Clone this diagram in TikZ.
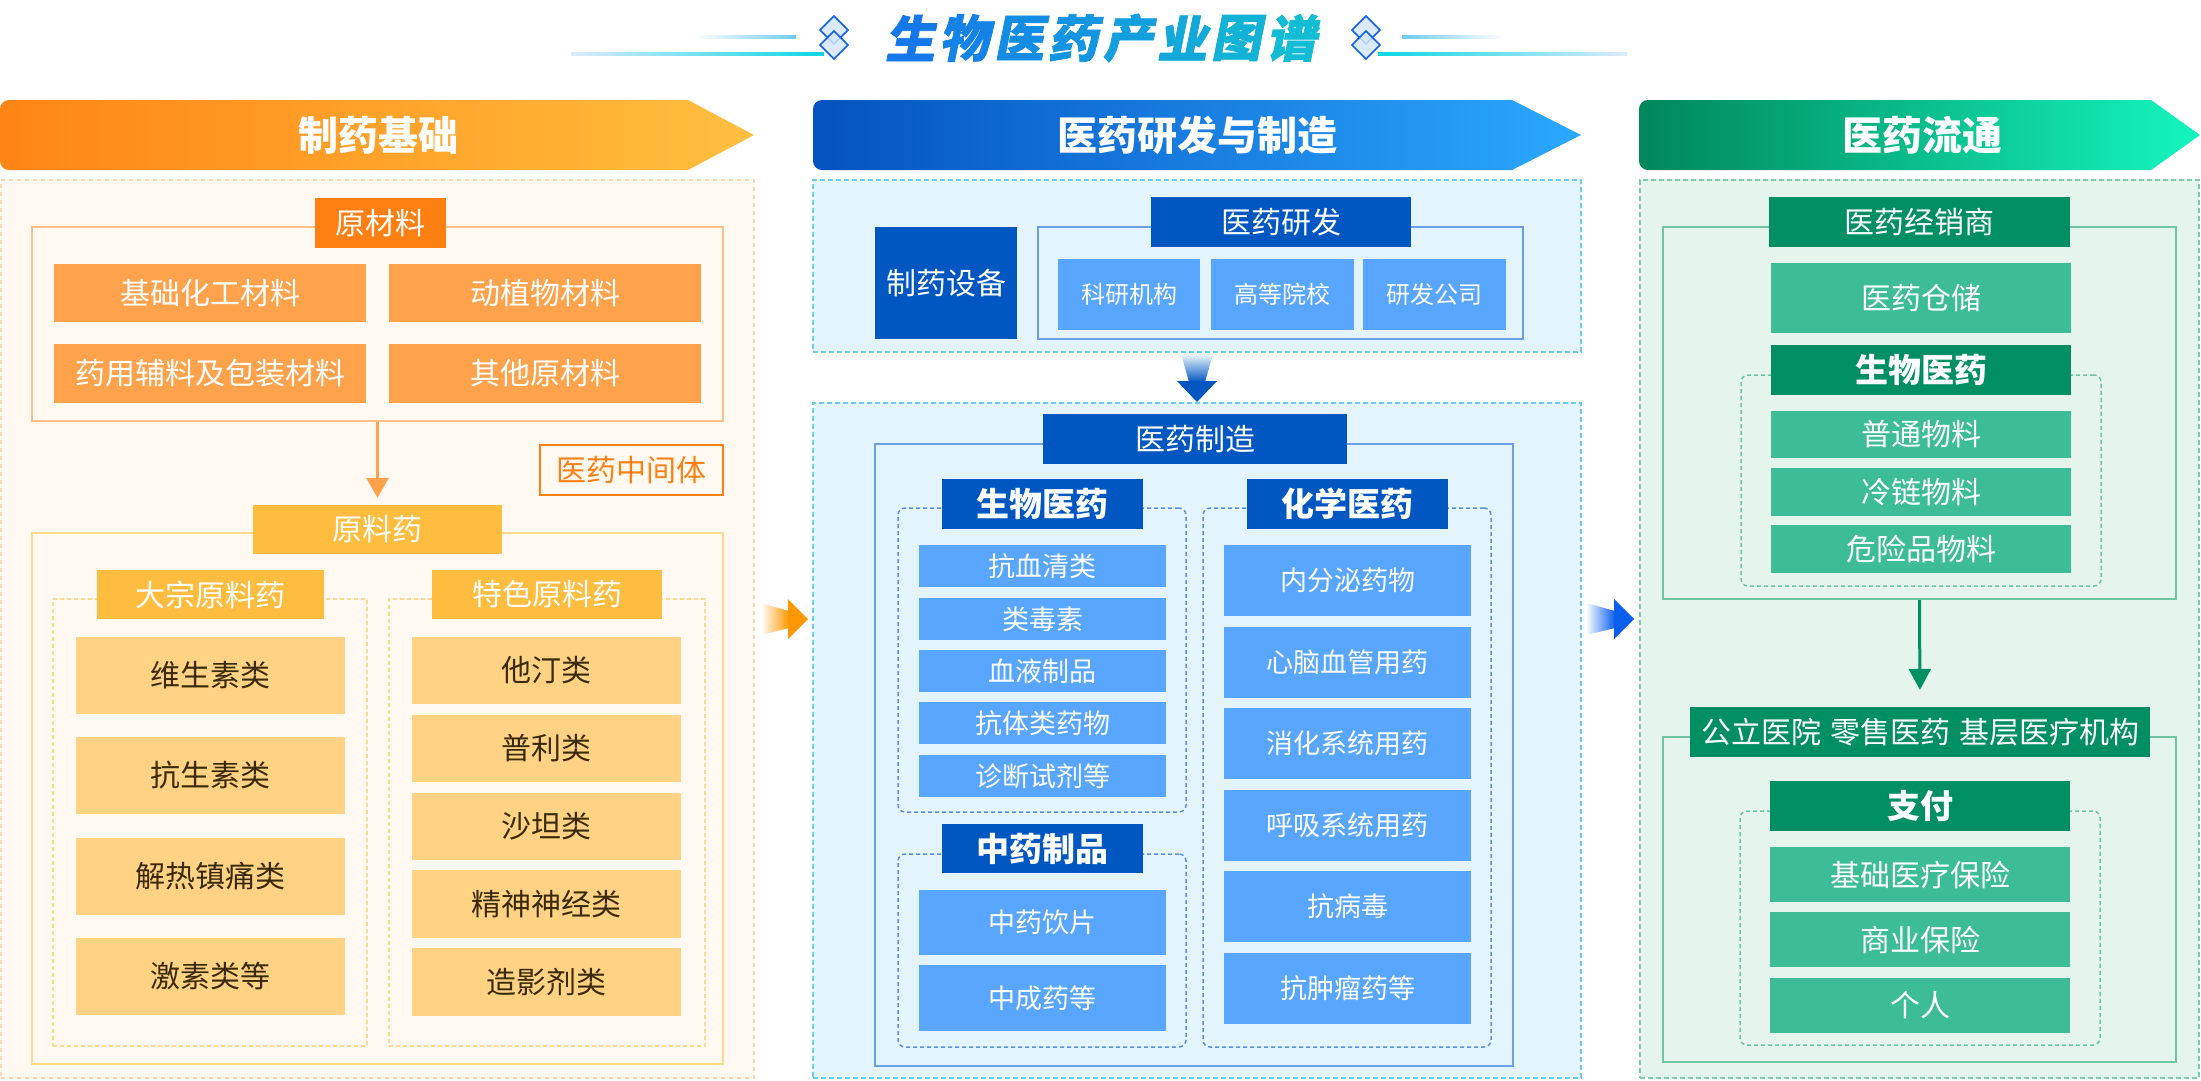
\documentclass[tikz,border=0pt]{standalone}
\usepackage{fontspec}
\newfontfamily\cjk{Noto Sans CJK SC}
\newfontfamily\titlefont{Noto Sans CJK SC}[FakeSlant=0.2,FakeBold=1.5]
\usetikzlibrary{arrows.meta}
\newcommand\fsz[1]{\fontsize{#1}{#1}\selectfont}
% colours
\definecolor{oHL}{HTML}{FF8514}\definecolor{oHR}{HTML}{FFBF40}
\definecolor{oPanel}{HTML}{FFF9F1}\definecolor{oPanelB}{HTML}{FDD5AE}
\definecolor{oDark}{HTML}{FF8012}\definecolor{oMid}{HTML}{FFA24C}
\definecolor{oFrame}{HTML}{FFBE85}\definecolor{yDark}{HTML}{FFBD40}
\definecolor{yItem}{HTML}{FFD383}\definecolor{yFrame}{HTML}{FFD98E}
\definecolor{yText}{HTML}{3B2A0A}
\definecolor{bHL}{HTML}{0552C0}\definecolor{bHR}{HTML}{2BA8FF}
\definecolor{bPanel}{HTML}{E3F4FC}\definecolor{bPanelB}{HTML}{6DCBF0}
\definecolor{bDark}{HTML}{0057C2}\definecolor{bItem}{HTML}{58A6FF}
\definecolor{bFrame}{HTML}{6B9FE6}\definecolor{bSub}{HTML}{5B8FD9}
\definecolor{gHL}{HTML}{00875A}\definecolor{gHR}{HTML}{14F5BE}
\definecolor{gPanel}{HTML}{E5F5EE}\definecolor{gPanelB}{HTML}{7DCDA8}
\definecolor{gDark}{HTML}{008F62}\definecolor{gItem}{HTML}{3DBD95}
\definecolor{gFrame}{HTML}{6FC4A2}
\definecolor{tA}{HTML}{1478EA}\definecolor{tB}{HTML}{12BCD4}
\definecolor{arrO}{HTML}{FF9800}\definecolor{arrB}{HTML}{0A5FEE}
\newcommand\bx[7]{\pgfmathsetmacro\bxW{(#5)-(#3)}\pgfmathsetmacro\bxH{(#6)-(#4)}%
  \node[#2,inner sep=0pt,minimum width=\bxW pt,minimum height=\bxH pt] (#1) at ({((#3)+(#5))/2},{((#4)+(#6))/2}) {#7};}
\tikzset{
  every node/.style={font=\cjk, align=center},
  hdrtext/.style={font=\cjk\bfseries\fsz{40}, text=white},
  otag/.style={fill=oDark, text=white, font=\cjk\fsz{30}},
  oitem/.style={fill=oMid, text=white, font=\cjk\fsz{30}},
  ytag/.style={fill=yDark, text=white, font=\cjk\fsz{30}},
  yitem/.style={fill=yItem, text=yText, font=\cjk\fsz{30}},
  oframe/.style={draw=oFrame, line width=2pt},
  yframe/.style={draw=yFrame, line width=2pt},
  ysub/.style={draw=yFrame, line width=1.5pt, dash pattern=on 4pt off 3pt},
  midbox/.style={draw=oDark, line width=1.5pt, text=oDark, font=\cjk\fsz{30}},
  btag/.style={fill=bDark, text=white, font=\cjk\fsz{30}},
  btagb/.style={fill=bDark, text=white, font=\cjk\bfseries\fsz{33}},
  bitem/.style={fill=bItem, text=white, font=\cjk\fsz{27}},
  bitems/.style={fill=bItem, text=white, font=\cjk\fsz{24}},
  bframe/.style={draw=bFrame, line width=2pt},
  bsub/.style={draw=bSub, line width=1.5pt, dash pattern=on 4pt off 3pt, rounded corners=7pt},
  gtag/.style={fill=gDark, text=white, font=\cjk\fsz{30}},
  gtagb/.style={fill=gDark, text=white, font=\cjk\bfseries\fsz{33}},
  gitem/.style={fill=gItem, text=white, font=\cjk\fsz{30}},
  gframe/.style={draw=gFrame, line width=2pt},
  gsub/.style={draw=gFrame, line width=1.5pt, dash pattern=on 4pt off 3pt, rounded corners=7pt},
  opanel/.style={fill=oPanel, draw=oPanelB, line width=1.5pt, dash pattern=on 4pt off 4pt},
  bpanel/.style={fill=bPanel, draw=bPanelB, line width=1.5pt, dash pattern=on 5pt off 3pt},
  gpanel/.style={fill=gPanel, draw=gPanelB, line width=1.5pt, dash pattern=on 5pt off 3pt},
  tch/.style={font=\titlefont\bfseries\fsz{50}, inner sep=0pt},
  dia/.style={draw=tA!80!blue, fill=tA!18!white, line width=1.5pt, fill opacity=0.85},
}
\begin{document}
\begin{tikzpicture}[x=1pt,y=-1pt]
\useasboundingbox (0,0) rectangle (2201,1080);
\fill[white] (0,0) rectangle (2201,1080);

% ---------- title ----------
\shade[left color=white, right color=bPanelB] (694,35) rectangle (796,38);
\shade[left color=tA!15!white, right color=tB!60!cyan] (571,52) rectangle (824,55);
\shade[right color=white, left color=bPanelB] (1402,35) rectangle (1504,38);
\shade[right color=tA!15!white, left color=tB!60!cyan] (1378,52) rectangle (1627,55);
\draw[dia] (834,16) -- (848,30) -- (834,44) -- (820,30) -- cycle;
\draw[dia] (834,31) -- (848,45) -- (834,59) -- (820,45) -- cycle;
\draw[dia] (1366,16) -- (1380,30) -- (1366,44) -- (1352,30) -- cycle;
\draw[dia] (1366,31) -- (1380,45) -- (1366,59) -- (1352,45) -- cycle;
\node[tch, text=tA] (t1) at (910,38) {生};
\node[tch, text=tA!86!tB] (t2) at (964,38) {物};
\node[tch, text=tA!71!tB] (t3) at (1019,38) {医};
\node[tch, text=tA!57!tB] (t4) at (1073,38) {药};
\node[tch, text=tA!43!tB] (t5) at (1128,38) {产};
\node[tch, text=tA!29!tB] (t6) at (1182,38) {业};
\node[tch, text=tA!14!tB] (t7) at (1236,38) {图};
\node[tch, text=tB] (t8) at (1291,38) {谱};

% ---------- headers ----------
\begin{scope}
  \clip[rounded corners=9pt] (0,100) rectangle (800,170);
  \clip (0,100) -- (688,100) -- (754,135) -- (688,170) -- (0,170) -- cycle;
  \shade[left color=oHL, right color=oHR] (0,100) rectangle (754,170);
\end{scope}
\node[hdrtext] (h1) at (378,135) {制药基础};
\begin{scope}
  \clip[rounded corners=9pt] (813,100) rectangle (1650,170);
  \clip (813,100) -- (1512,100) -- (1581,135) -- (1512,170) -- (813,170) -- cycle;
  \shade[left color=bHL, right color=bHR] (813,100) rectangle (1581,170);
\end{scope}
\node[hdrtext] (h2) at (1197,135) {医药研发与制造};
\begin{scope}
  \clip[rounded corners=9pt] (1639,100) rectangle (2300,170);
  \clip (1639,100) -- (2151,100) -- (2200,135) -- (2151,170) -- (1639,170) -- cycle;
  \shade[left color=gHL, right color=gHR] (1639,100) rectangle (2200,170);
\end{scope}
\node[hdrtext] (h3) at (1922,135) {医药流通};

% ---------- column 1 ----------
\bx{p1}{opanel}{1}{180}{754}{1078}{}
\bx{f1}{oframe}{32}{227}{723}{421}{}
\bx{rcl}{otag}{315}{198}{446}{248}{原材料}
\bx{o1}{oitem}{54}{264}{366}{322}{基础化工材料}
\bx{o2}{oitem}{389}{264}{701}{322}{动植物材料}
\bx{o3}{oitem}{54}{344}{366}{403}{药用辅料及包装材料}
\bx{o4}{oitem}{389}{344}{701}{403}{其他原材料}
\bx{mid}{midbox}{540}{445}{723}{495}{医药中间体}
\bx{f2}{yframe}{32}{533}{723}{1064}{}
\bx{yly}{ytag}{253}{505}{502}{554}{原料药}
\draw[draw=oMid, line width=3pt, -{Triangle[width=22pt,length=20pt]}, shorten >=7pt] (f1.south) -- (yly.north);
\bx{s1}{ysub}{53}{599}{367}{1046}{}
\bx{s2}{ysub}{389}{599}{705}{1046}{}
\bx{dz}{ytag}{97}{570}{324}{619}{大宗原料药}
\bx{ts}{ytag}{432}{570}{662}{619}{特色原料药}
\bx{l1}{yitem}{76}{637}{345}{714}{维生素类}
\bx{l2}{yitem}{76}{737}{345}{814}{抗生素类}
\bx{l3}{yitem}{76}{838}{345}{915}{解热镇痛类}
\bx{l4}{yitem}{76}{938}{345}{1015}{激素类等}
\bx{r1}{yitem}{412}{637}{681}{704}{他汀类}
\bx{r2}{yitem}{412}{715}{681}{782}{普利类}
\bx{r3}{yitem}{412}{793}{681}{860}{沙坦类}
\bx{r4}{yitem}{412}{870}{681}{938}{精神神经类}
\bx{r5}{yitem}{412}{948}{681}{1016}{造影剂类}

% ---------- column 2 ----------
\bx{pb1}{bpanel}{813}{180}{1581}{352}{}
\bx{pb2}{bpanel}{813}{403}{1581}{1078}{}
\bx{eq}{btag}{875}{227}{1017}{339}{制药设备}
\bx{fr}{bframe}{1038}{227}{1523}{339}{}
\bx{yf}{btag}{1151}{197}{1411}{247}{医药研发}
\bx{k1}{bitems}{1058}{259}{1200}{330}{科研机构}
\bx{k2}{bitems}{1211}{259}{1354}{330}{高等院校}
\bx{k3}{bitems}{1363}{259}{1506}{330}{研发公司}
\shade[top color=bPanel!60!white, bottom color=bDark] (1181,354) -- (1213,354) -- (1205,382) -- (1189,382) -- cycle;
\fill[bDark] (1177,381) -- (1217,381) -- (1197,402) -- cycle;
\bx{fm}{bframe}{875}{444}{1513}{1066}{}
\bx{zz}{btag}{1043}{414}{1347}{464}{医药制造}
\bx{sb}{bsub}{898}{508}{1186}{812}{}
\bx{sc}{bsub}{1203}{508}{1491}{1047}{}
\bx{sz}{bsub}{898}{854}{1186}{1047}{}
\bx{swy}{btagb}{942}{479}{1143}{529}{生物医药}
\bx{hxy}{btagb}{1247}{479}{1448}{529}{化学医药}
\bx{b1}{bitem}{919}{545}{1166}{587}{抗血清类}
\bx{b2}{bitem}{919}{598}{1166}{640}{类毒素}
\bx{b3}{bitem}{919}{650}{1166}{692}{血液制品}
\bx{b4}{bitem}{919}{702}{1166}{744}{抗体类药物}
\bx{b5}{bitem}{919}{755}{1166}{797}{诊断试剂等}
\bx{zyp}{btagb}{942}{824}{1143}{873}{中药制品}
\bx{z1}{bitem}{919}{890}{1166}{955}{中药饮片}
\bx{z2}{bitem}{919}{965}{1166}{1031}{中成药等}
\bx{c1}{bitem}{1224}{545}{1471}{616}{内分泌药物}
\bx{c2}{bitem}{1224}{627}{1471}{698}{心脑血管用药}
\bx{c3}{bitem}{1224}{708}{1471}{779}{消化系统用药}
\bx{c4}{bitem}{1224}{790}{1471}{861}{呼吸系统用药}
\bx{c5}{bitem}{1224}{871}{1471}{942}{抗病毒}
\bx{c6}{bitem}{1224}{953}{1471}{1024}{抗肿瘤药等}

% ---------- column 3 ----------
\bx{pg}{gpanel}{1640}{180}{2199}{1078}{}
\bx{g1}{gframe}{1663}{227}{2176}{599}{}
\bx{jxs}{gtag}{1769}{197}{2070}{247}{医药经销商}
\bx{cc}{gitem}{1771}{263}{2071}{333}{医药仓储}
\bx{gs1}{gsub}{1741}{375}{2101}{586}{}
\bx{gsw}{gtagb}{1771}{345}{2071}{395}{生物医药}
\bx{w1}{gitem}{1771}{411}{2071}{458}{普通物料}
\bx{w2}{gitem}{1771}{468}{2071}{516}{冷链物料}
\bx{w3}{gitem}{1771}{525}{2071}{573}{危险品物料}
\bx{g2}{gframe}{1663}{737}{2176}{1062}{}
\bx{gly}{gtag}{1690}{707}{2150}{757}{公立医院\hspace{0.3em}零售医药\hspace{0.3em}基层医疗机构}
\draw[draw=gDark, line width=3pt, -{Triangle[width=22pt,length=21pt]}, shorten >=17pt] (g1.south) -- (gly.north);
\bx{gs2}{gsub}{1740}{811}{2100}{1045}{}
\bx{zf}{gtagb}{1770}{781}{2070}{831}{支付}
\bx{i1}{gitem}{1770}{847}{2070}{902}{基础医疗保险}
\bx{i2}{gitem}{1770}{912}{2070}{967}{商业保险}
\bx{i3}{gitem}{1770}{978}{2070}{1033}{个人}

% ---------- arrows between columns ----------
\shade[left color=white, right color=arrO] (761,603) -- (789,611) -- (789,628) -- (761,635) -- cycle;
\fill[arrO] (788,599) -- (808,619) -- (788,639) -- cycle;
\shade[left color=white, right color=arrB] (1586,603) -- (1615,611) -- (1615,628) -- (1586,635) -- cycle;
\fill[arrB] (1614,599) -- (1634,619) -- (1614,639) -- cycle;
\end{tikzpicture}
\end{document}
